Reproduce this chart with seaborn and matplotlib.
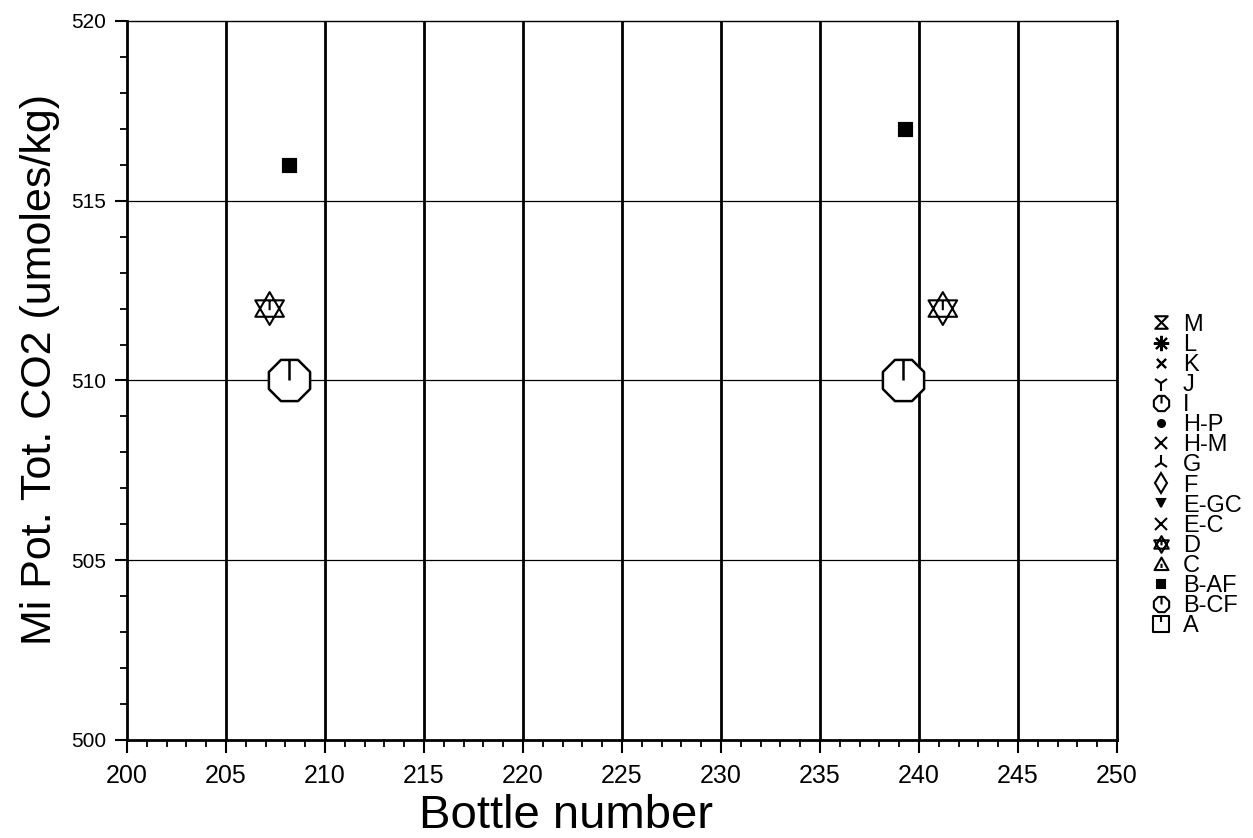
import numpy as np
import pandas as pd
import matplotlib.pyplot as plt
import seaborn as sns
from matplotlib.path import Path
from matplotlib.lines import Line2D

sns.set_style("white")
plt.rcParams['font.family'] = ['Liberation Sans', 'DejaVu Sans']
plt.rcParams.update({"text.color": "black", "axes.labelcolor": "black",
                     "xtick.color": "black", "ytick.color": "black"})

# data
baf_bottle = [208.2, 239.3]
baf_co2 = [516.0, 517.0]
d_bottle = [207.2, 241.2]
d_co2 = [512.0, 512.0]
bcf_bottle = [208.2, 239.2]
bcf_co2 = [510.0, 510.0]

legend_labels = ["M", "L", "K", "J", "I", "H-P", "H-M", "G", "F",
                 "E-GC", "E-C", "D", "C", "B-AF", "B-CF", "A"]

# custom marker shapes
M, L, C = Path.MOVETO, Path.LINETO, Path.CLOSEPOLY
star_david = Path(
    [(0, 1), (0.87, -0.5), (-0.87, -0.5), (0, 1),
     (0, -1), (0.87, 0.5), (-0.87, 0.5), (0, -1),
     (0, 0.5), (0, -0.1)],
    [M, L, L, C, M, L, L, C, M, L])
hourglass = Path([(-1, 1), (1, 1), (-1, -1), (1, -1), (-1, 1)], [M, L, L, L, C])
ang = np.deg2rad(22.5 + 45 * np.arange(8))
oct_pts = [(np.cos(a), np.sin(a)) for a in ang]
octagon_tick = Path(oct_pts + [oct_pts[0], (0, 0), (0, 0.924)],
                    [M] + [L] * 7 + [C, M, L])
box_tick = Path([(-1, -1), (1, -1), (1, 1), (-1, 1), (-1, -1), (0, 0.2), (0, 1)],
                [M, L, L, L, C, M, L])
tri_tick = Path([(0, 1), (1, -0.8), (-1, -0.8), (0, 1), (0, 0.1), (0, -0.5)],
                [M, L, L, C, M, L])

fig, ax = plt.subplots(figsize=(12.53, 8.38), dpi=100)
fig.subplots_adjust(left=0.1014, right=0.8915, top=0.975, bottom=0.117)

# grid
for xv in range(205, 250, 5):
    ax.axvline(xv, color="black", lw=2.0, zorder=1)
for yv in range(505, 520, 5):
    ax.axhline(yv, color="black", lw=0.9, zorder=1)

df_baf = pd.DataFrame({"bottle": baf_bottle, "co2": baf_co2})
df_d = pd.DataFrame({"bottle": d_bottle, "co2": d_co2})
df_bcf = pd.DataFrame({"bottle": bcf_bottle, "co2": bcf_co2})

sns.scatterplot(data=df_baf, x="bottle", y="co2", marker="s", s=110,
                color="black", edgecolor="black", ax=ax, zorder=3)
sns.scatterplot(data=df_d, x="bottle", y="co2", marker=star_david, s=560,
                facecolor="none", edgecolor="black", linewidth=1.5, ax=ax, zorder=3)
sns.scatterplot(data=df_bcf, x="bottle", y="co2", marker=octagon_tick, s=880,
                facecolor="white", edgecolor="black", linewidth=1.8, ax=ax, zorder=3)

ax.set_xlim(200, 250)
ax.set_ylim(500, 520)
ax.set_xticks(range(200, 251, 5))
ax.set_yticks(range(500, 521, 5))
ax.set_xticks(range(200, 251), minor=True)
ax.set_yticks(range(500, 521), minor=True)
ax.tick_params(axis="both", which="both", bottom=True, left=True, direction="out")
ax.tick_params(axis="both", which="major", length=9, width=1.5, color="black")
ax.tick_params(axis="both", which="minor", length=5, width=1.3, color="black")
ax.tick_params(axis="x", labelsize=18, pad=8)
ax.tick_params(axis="y", labelsize=15, pad=6)
ax.set_xlabel("Bottle number", fontsize=34)
ax.xaxis.set_label_coords(0.443, -0.075)
ax.set_ylabel("Mi Pot. Tot. CO2 (umoles/kg)", fontsize=31)
ax.yaxis.set_label_coords(-0.068, 0.515)
for side in ["left", "bottom", "right"]:
    ax.spines[side].set_linewidth(2.0)
ax.spines["top"].set_linewidth(1.0)
for sp in ax.spines.values():
    sp.set_color("black")

legend_markers = [
    (hourglass, False), ((8, 2, 0), False), ((4, 2, 45), False), ("1", False),
    (octagon_tick, False), ("o", True), ("x", False), ("2", False), ("d", False),
    ("v", True), ("x", False), (star_david, False), (tri_tick, False),
    ("s", True), (octagon_tick, False), (box_tick, False),
]
sizes = [9, 11, 9, 11, 11, 5, 9, 11, 10, 6, 8, 12, 10, 6, 11, 11]
handles = []
for (m, filled), ms in zip(legend_markers, sizes):
    handles.append(Line2D([], [], linestyle="none", marker=m, markersize=ms,
                          markerfacecolor="black" if filled else "none",
                          markeredgecolor="black", color="black", markeredgewidth=1.5))
leg = ax.legend(handles, legend_labels, loc="upper left", bbox_to_anchor=(1.025, 0.606),
                frameon=False, fontsize=17, handlelength=0.8, handletextpad=0.55,
                labelspacing=-0.08, borderaxespad=0)

fig.savefig("out.png", dpi=100)
